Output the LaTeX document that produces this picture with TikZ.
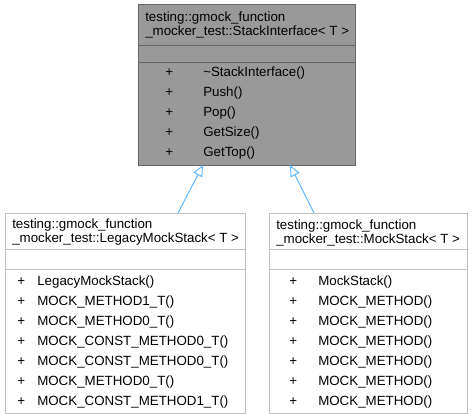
\documentclass[tikz,border=0pt]{standalone}
\usepackage{fontspec}
\setmainfont{Liberation Sans}
\usetikzlibrary{positioning,arrows.meta}
\definecolor{headfill}{HTML}{999999}
\definecolor{headline}{HTML}{666666}
\definecolor{boxline}{HTML}{BFBFBF}
\definecolor{edgeblue}{HTML}{63B8FF}
\def\u{0.75pt}
\tikzstyle{headbox} = [rectangle, draw=headline, fill=headfill, line width=\u, inner sep=0pt, outer sep=0pt]
\tikzstyle{classbox} = [rectangle, draw=boxline, fill=white, line width=\u, inner sep=0pt, outer sep=0pt]
\tikzstyle{title} = [anchor=west, align=left, inner sep=0pt, font=\fontsize{10}{10.5}\selectfont]
\tikzstyle{member} = [anchor=west, inner sep=0pt, text height=7.5pt, text depth=2pt, font=\fontsize{10}{12}\selectfont]
\tikzstyle{inherit} = [draw=edgeblue, line width=\u, -{Triangle[open, length=8.5pt, width=7.5pt]}]

\begin{document}
\begin{tikzpicture}[x=\u, y=-\u]

\useasboundingbox (0,0) rectangle (472,419);

% base class
\node[headbox, minimum width=217*\u, minimum height=41*\u] (ifaceName) at (246.5,24.5) {};
\node[headbox, minimum width=217*\u, minimum height=17*\u, below=0pt of ifaceName] (ifaceAttr) {};
\node[headbox, minimum width=217*\u, minimum height=103*\u, below=0pt of ifaceAttr] (ifaceOps) {};
\node[title] (ifaceTitle) at (145,24.5) {testing::gmock\_function\\\_mocker\_test::StackInterface< T >};
\foreach \name [count=\i] in {\textasciitilde StackInterface(), Push(), Pop(), GetSize(), GetTop()}
{
  \node[member] (ifaceP\i) at (165,53+20*\i) {+};
  \node[member] (ifaceM\i) at (203,53+20*\i) {\name};
}

% legacy mock
\node[classbox, minimum width=240*\u, minimum height=36*\u] (legacyName) at (125,231) {};
\node[classbox, minimum width=240*\u, minimum height=20*\u, below=0pt of legacyName] (legacyAttr) {};
\node[classbox, minimum width=240*\u, minimum height=144*\u, below=0pt of legacyAttr] (legacyOps) {};
\node[title] (legacyTitle) at (12,232.5) {testing::gmock\_function\\\_mocker\_test::LegacyMockStack< T >};
\foreach \name [count=\i] in {LegacyMockStack(), MOCK\_METHOD1\_T(), MOCK\_METHOD0\_T(), MOCK\_CONST\_METHOD0\_T(), MOCK\_CONST\_METHOD0\_T(), MOCK\_METHOD0\_T(), MOCK\_CONST\_METHOD1\_T()}
{
  \node[member] (legacyP\i) at (17,262+20*\i) {+};
  \node[member] (legacyM\i) at (37,262+20*\i) {\name};
}

% new style mock
\node[classbox, minimum width=198*\u, minimum height=36*\u] (mockName) at (368,231) {};
\node[classbox, minimum width=198*\u, minimum height=20*\u, below=0pt of mockName] (mockAttr) {};
\node[classbox, minimum width=198*\u, minimum height=144*\u, below=0pt of mockAttr] (mockOps) {};
\node[title] (mockTitle) at (276,232.5) {testing::gmock\_function\\\_mocker\_test::MockStack< T >};
\foreach \name [count=\i] in {MockStack(), MOCK\_METHOD(), MOCK\_METHOD(), MOCK\_METHOD(), MOCK\_METHOD(), MOCK\_METHOD(), MOCK\_METHOD()}
{
  \node[member] (mockP\i) at (289,262+20*\i) {+};
  \node[member] (mockM\i) at (318,262+20*\i) {\name};
}

\path[inherit] ([xshift=53*\u]legacyName.north) -- ([xshift=-43.5*\u]ifaceOps.south);
\path[inherit] ([xshift=-54*\u]mockName.north) -- ([xshift=43.5*\u]ifaceOps.south);

\end{tikzpicture}
\end{document}
